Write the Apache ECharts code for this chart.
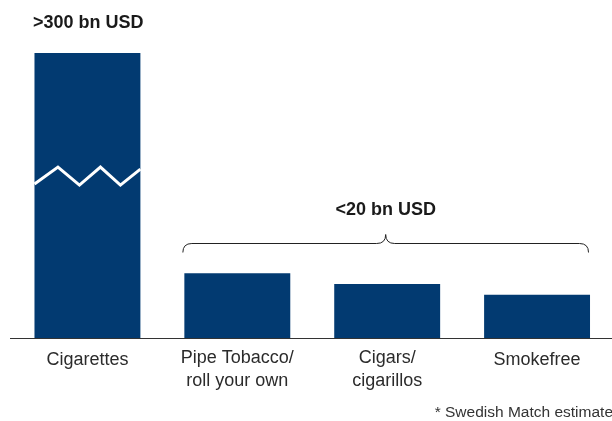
<!DOCTYPE html>
<html><head><meta charset="utf-8">
<script src="https://cdn.jsdelivr.net/npm/echarts@6/dist/echarts.min.js"></script>
<style>html,body{margin:0;padding:0;background:#fff}#c{width:612px;height:421px}</style>
</head><body><div id="c"></div>
<script>
const categories = ['Cigarettes', 'Pipe Tobacco/\nroll your own', 'Cigars/\ncigarillos', 'Smokefree'];
const values = [66, 15, 12.5, 10];           // display units (cigarettes bar is broken)
const breakValue = [37.5];                    // where the white zigzag cuts the first bar
const topLabel = '>300 bn USD';
const groupLabel = '<20 bn USD';
const footnote = '* Swedish Match estimate';

const FONT = '"Liberation Sans", Arial, sans-serif';
const BAR = '#023a71';
const chart = echarts.init(document.getElementById('c'));
const BW = 106 / 150;

chart.setOption({
  animation: false,
  grid: { left: 12.5, right: 0, top: 53, bottom: 83 },
  xAxis: {
    type: 'category', data: categories,
    axisLine: { show: false }, axisTick: { show: false },
    axisLabel: {
      margin: 9, fontFamily: FONT, fontSize: 18, color: '#2b2b2b', lineHeight: 23,
      formatter: v => v.indexOf('\n') < 0 ? '{s|' + v + '}' : v,
      rich: { s: { fontFamily: FONT, fontSize: 18, color: '#2b2b2b', padding: [4, 0, 0, 0], lineHeight: 23 } }
    }
  },
  yAxis: { type: 'value', min: 0, max: 66, show: false, splitLine: { show: false } },
  graphic: [
    { type: 'line', shape: { x1: 10, y1: 338.5, x2: 612, y2: 338.5 }, style: { stroke: '#333', lineWidth: 1 }, z: 10 },
    { type: 'text', left: 33, top: 14, style: { text: topLabel, font: 'bold 18px ' + FONT, fill: '#1a1a1a' } },
    { type: 'text', right: -1, top: 405, style: { text: footnote, font: '15.5px ' + FONT, fill: '#333' } }
  ],
  series: [
    { type: 'bar', data: values, barWidth: '70.67%', itemStyle: { color: BAR }, z: 2 },
    {
      type: 'custom', data: [[0, breakValue[0]]], z: 5, silent: true,
      renderItem: (params, api) => {
        const c = api.coord([api.value(0), api.value(1)]);
        const w = api.size([1, 0])[0] * BW;
        const x0 = c[0] - w / 2;
        const xs = [0, 23.5, 45, 66, 86, 106].map(d => x0 + d * w / 106);
        const yy = [8, -9, 9, -9, 9, -7];
        const pts = xs.map((x, i) => [x, c[1] + yy[i]]);
        return { type: 'polyline', shape: { points: pts }, style: { stroke: '#fff', lineWidth: 3, fill: null } };
      }
    },
    {
      type: 'custom', data: [[1, 3]], z: 5, silent: true,
      renderItem: (params, api) => {
        const w = api.size([1, 0])[0] * BW;
        const a = api.coord([api.value(0), 0]);
        const b = api.coord([api.value(1), 0]);
        const xl = a[0] - w / 2 - 1.5, xr = b[0] + w / 2 - 1.5;
        const xm = (xl + xr) / 2;
        const y = 243.5, r = 9;
        const path = 'M' + xl + ' ' + (y + r) +
          ' Q' + xl + ' ' + y + ' ' + (xl + r) + ' ' + y +
          ' L' + (xm - r) + ' ' + y +
          ' Q' + xm + ' ' + y + ' ' + xm + ' ' + (y - r) +
          ' Q' + xm + ' ' + y + ' ' + (xm + r) + ' ' + y +
          ' L' + (xr - r) + ' ' + y +
          ' Q' + xr + ' ' + y + ' ' + xr + ' ' + (y + r);
        return {
          type: 'group', children: [
            { type: 'path', shape: { pathData: path }, style: { stroke: '#222', lineWidth: 1, fill: null } },
            { type: 'text', x: xm, y: 210, style: { text: groupLabel, font: 'bold 18px ' + FONT, fill: '#1a1a1a', align: 'center', verticalAlign: 'middle' } }
          ]
        };
      }
    }
  ]
});
</script></body></html>
